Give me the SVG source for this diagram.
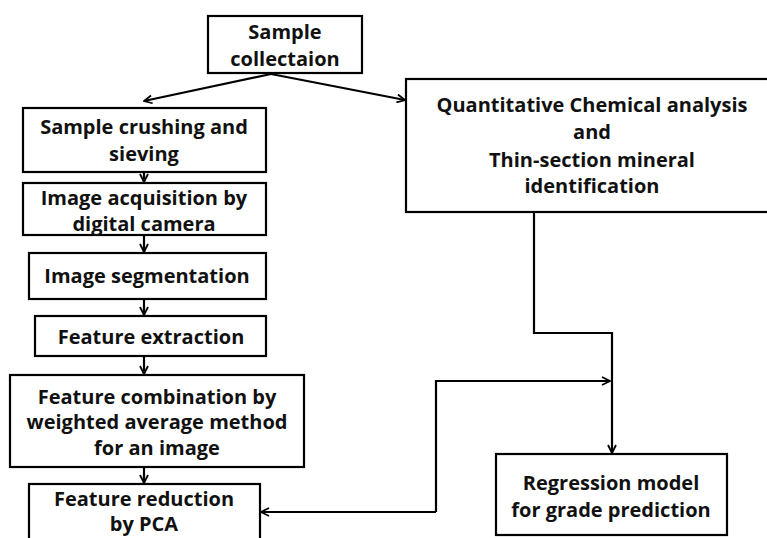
<svg xmlns="http://www.w3.org/2000/svg" width="767" height="538" viewBox="0 0 767 538">
<defs>
<marker id="ah" viewBox="0 0 10 10" refX="9" refY="5" markerWidth="10" markerHeight="10" markerUnits="userSpaceOnUse" orient="auto">
<path d="M1,1 L9,5 L1,9" fill="none" stroke="#000" stroke-width="1.8"/>
</marker>
<style>
.box{fill:#fff;stroke:#000;stroke-width:2.2}
.t{font-family:"Open Sans","Liberation Sans",sans-serif;font-weight:bold;font-size:20px;fill:#111;text-anchor:middle}
.c{fill:none;stroke:#000;stroke-width:2.2}
</style>
</defs>
<rect width="767" height="538" fill="#fff"/>
<g id="connectors">
<line class="c" x1="271" y1="74" x2="144" y2="101" marker-end="url(#ah)"/>
<line class="c" x1="271" y1="74" x2="405" y2="100" marker-end="url(#ah)"/>
<line class="c" x1="144" y1="172" x2="144" y2="182" marker-end="url(#ah)"/>
<line class="c" x1="144" y1="235" x2="144" y2="252" marker-end="url(#ah)"/>
<line class="c" x1="144" y1="299" x2="144" y2="315" marker-end="url(#ah)"/>
<line class="c" x1="144" y1="356" x2="144" y2="374" marker-end="url(#ah)"/>
<line class="c" x1="144" y1="467" x2="144" y2="483" marker-end="url(#ah)"/>
<polyline class="c" points="534,212 534,333 612,333 612,453" marker-end="url(#ah)"/>
<polyline class="c" points="436,512 436,381 610,381" marker-end="url(#ah)"/>
<line class="c" x1="436" y1="512" x2="261" y2="512" marker-end="url(#ah)"/>
</g>
<g id="sample-collection">
<rect class="box" x="208" y="16" width="154" height="57"/>
<text class="t" x="285" y="39">Sample</text>
<text class="t" x="285" y="66">collectaion</text>
</g>
<g id="crushing">
<rect class="box" x="23" y="108" width="243" height="64"/>
<text class="t" x="144" y="134">Sample crushing and</text>
<text class="t" x="144" y="161">sieving</text>
</g>
<g id="acquisition">
<rect class="box" x="23" y="183" width="243" height="52"/>
<text class="t" x="144" y="205">Image acquisition by</text>
<text class="t" x="144" y="231">digital camera</text>
</g>
<g id="segmentation">
<rect class="box" x="29" y="253" width="237" height="46"/>
<text class="t" x="147" y="283">Image segmentation</text>
</g>
<g id="extraction">
<rect class="box" x="35" y="316" width="231" height="40"/>
<text class="t" x="151" y="344">Feature extraction</text>
</g>
<g id="combination">
<rect class="box" x="10" y="375" width="294" height="92"/>
<text class="t" x="157" y="404">Feature combination by</text>
<text class="t" x="157" y="429">weighted average method</text>
<text class="t" x="157" y="455">for an image</text>
</g>
<g id="reduction">
<rect class="box" x="29" y="484" width="231" height="60"/>
<text class="t" x="144" y="506">Feature reduction</text>
<text class="t" x="144" y="531">by PCA</text>
</g>
<g id="chemical">
<rect class="box" x="406" y="79" width="370" height="133"/>
<text class="t" x="592" y="112">Quantitative Chemical analysis</text>
<text class="t" x="592" y="139">and</text>
<text class="t" x="592" y="167">Thin-section mineral</text>
<text class="t" x="592" y="193">identification</text>
</g>
<g id="regression">
<rect class="box" x="496" y="454" width="231" height="81"/>
<text class="t" x="611" y="490">Regression model</text>
<text class="t" x="611" y="517">for grade prediction</text>
</g>
</svg>
